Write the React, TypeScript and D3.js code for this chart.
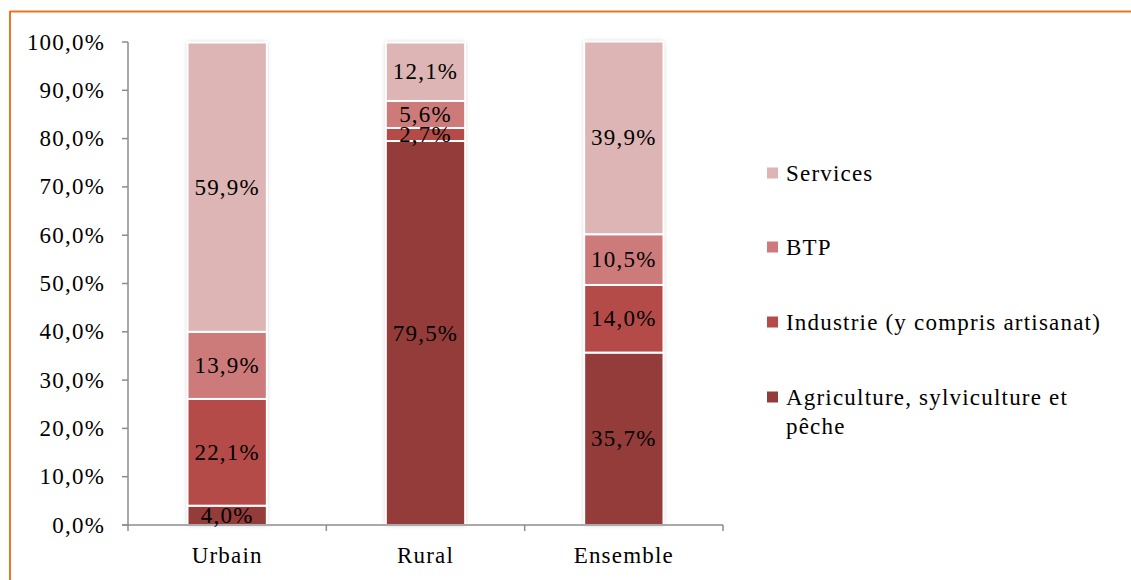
import React from "react";
import * as d3 from "d3";

const categories = ["Urbain", "Rural", "Ensemble"];
const seriesNames = ["Agriculture, sylviculture et pêche", "Industrie (y compris artisanat)", "BTP", "Services"];
const agriculture = [4.0, 79.5, 35.7];
const industrie = [22.1, 2.7, 14.0];
const btp = [13.9, 5.6, 10.5];
const services = [59.9, 12.1, 39.9];
const colors = ["#943c3a", "#b54b48", "#cd7b7a", "#ddb5b4"];
const yTicks = [0, 10, 20, 30, 40, 50, 60, 70, 80, 90, 100];

const W = 1131, H = 580;
const M = { left: 128, right: 723, top: 42, bottom: 525 };
const FONT = "Liberation Serif";
const FS = 23;
const LS = 1.2;

export default function App() {
  const series = [agriculture, industrie, btp, services];
  const x = d3.scaleBand<string>().domain(categories).range([M.left, M.right]).paddingInner(0.6).paddingOuter(0.3);
  const y = d3.scaleLinear().domain([0, 100]).range([M.bottom, M.top]);
  const fmt = (v: number) => v.toFixed(1).replace(".", ",") + "%";
  const stack = categories.map((c, i) => {
    let acc = 0;
    return series.map((s, k) => {
      const y0 = acc;
      acc += s[i];
      return { k, y0, y1: acc, v: s[i] };
    });
  });
  const step = (M.right - M.left) / categories.length;
  const legendY = [173, 247, 322, 397];
  const legendOrder = [3, 2, 1, 0];
  const txt = { fontFamily: FONT, fontSize: FS, letterSpacing: LS, fill: "#000" } as const;
  return (
    <svg width={W} height={H} style={{ position: "absolute", left: 0, top: 0 }}>
      <defs>
        <filter id="sh" x="-20%" y="-5%" width="140%" height="110%">
          <feDropShadow dx="0" dy="0" stdDeviation="2" floodColor="#000" floodOpacity="0.25" />
        </filter>
      </defs>
      <rect x={0} y={0} width={W} height={H} fill="#fff" />
      <line x1={10} y1={11.5} x2={W} y2={11.5} stroke="#e87722" strokeWidth={2} />
      <line x1={10} y1={11} x2={10} y2={H} stroke="#e87722" strokeWidth={2} />
      {/* y axis */}
      <line x1={M.left} y1={y(100)} x2={M.left} y2={M.bottom} stroke="#8c8c8c" strokeWidth={1.5} />
      {yTicks.map((t) => (
        <g key={t}>
          <line x1={M.left - 6} x2={M.left} y1={y(t)} y2={y(t)} stroke="#8c8c8c" strokeWidth={1.5} />
          <text x={105} y={y(t)} dy="0.33em" textAnchor="end" {...txt}>
            {fmt(t)}
          </text>
        </g>
      ))}
      {/* bars */}
      {categories.map((c, i) => (
        <g key={c}>
          <rect x={x(c)!} y={y(stack[i][3].y1)} width={x.bandwidth()} height={y(0) - y(stack[i][3].y1)} fill="#fff" filter="url(#sh)" />
          {stack[i].map((s) => (
            <rect key={s.k} x={x(c)!} y={y(s.y1)} width={x.bandwidth()} height={y(s.y0) - y(s.y1)} fill={colors[s.k]} stroke="#fff" strokeWidth={2} />
          ))}
        </g>
      ))}
      {/* x axis */}
      <line x1={M.left - 6} x2={M.right} y1={M.bottom} y2={M.bottom} stroke="#8c8c8c" strokeWidth={1.5} />
      {d3.range(categories.length + 1).map((j) => (
        <line key={j} x1={M.left + j * step} x2={M.left + j * step} y1={M.bottom} y2={M.bottom + 6} stroke="#8c8c8c" strokeWidth={1.5} />
      ))}
      {categories.map((c) => (
        <text key={c} x={x(c)! + x.bandwidth() / 2} y={555} dy="0.33em" textAnchor="middle" {...txt}>
          {c}
        </text>
      ))}
      {/* labels */}
      {categories.map((c, i) =>
        stack[i].map((s) => (
          <text key={c + s.k} x={x(c)! + x.bandwidth() / 2} y={(y(s.y0) + y(s.y1)) / 2} dy="0.33em" textAnchor="middle" {...txt}>
            {fmt(s.v)}
          </text>
        ))
      )}
      {/* legend */}
      {legendOrder.map((k, j) => (
        <g key={k}>
          <rect x={767} y={legendY[j] - 5.5} width={11} height={11} fill={colors[k]} />
          {k === 0 ? (
            <text x={786} y={legendY[j]} dy="0.33em" {...txt}>
              <tspan x={786}>Agriculture, sylviculture et</tspan>
              <tspan x={786} dy="1.26em">pêche</tspan>
            </text>
          ) : (
            <text x={786} y={legendY[j]} dy="0.33em" {...txt}>
              {seriesNames[k]}
            </text>
          )}
        </g>
      ))}
    </svg>
  );
}
